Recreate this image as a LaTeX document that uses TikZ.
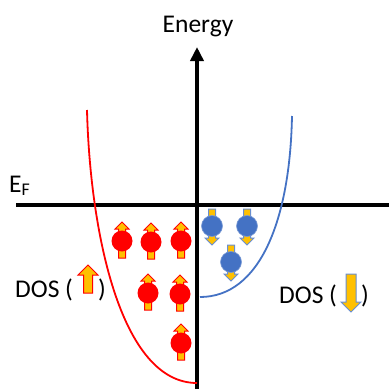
\documentclass[tikz,border=0pt]{standalone}
\usepackage{fontspec}
\setmainfont{Carlito}
\usetikzlibrary{arrows.meta}
\definecolor{redc}{HTML}{FF0000}
\definecolor{orangec}{HTML}{FFC000}
\definecolor{bluec}{HTML}{4472C4}
\tikzset{
  lbl/.style={inner sep=0pt, font=\fontsize{25.5}{28}\selectfont},
  axisline/.style={line width=4pt, black},
  upspin/.pic={
    \filldraw[fill=orangec, draw=redc, line width=1pt]
      (0,-19) -- (7,-12) -- (3.5,-12) -- (3.5,17) -- (-3.5,17) -- (-3.5,-12) -- (-7,-12) -- cycle;
    \fill[redc] (0,0) circle (10.5pt);
  },
  downspin/.pic={
    \filldraw[fill=orangec, draw=bluec!80!white, line width=1pt]
      (0,19) -- (7,12) -- (3.5,12) -- (3.5,-17) -- (-3.5,-17) -- (-3.5,12) -- (-7,12) -- cycle;
    \filldraw[fill=bluec, draw=bluec!70!white, line width=0.6pt] (0,0) circle (10.5pt);
  }
}
\begin{document}
\begin{tikzpicture}[x=1pt, y=-1pt]
\useasboundingbox (0,0) rectangle (390,391);
% axes
\coordinate (vtop) at (197,47);
\coordinate (vbot) at (197,389);
\coordinate (hl) at (16,205);
\coordinate (hr) at (389,205);
\draw[axisline] (hl) -- (hr);
\draw[axisline, -{Triangle[width=13pt,length=14pt]}] (vbot) -- (vtop);
% labels
\node[lbl, anchor=base] (energy) at (198,32) {Energy};
\node[lbl, anchor=base west] (ef) at (9,192) {E\textsubscript{F}};
\node[lbl, anchor=base west] (dosl) at (15,297) {DOS (};
\node[lbl, anchor=base west] (dosl2) at (98,297) {)};
\node[lbl, anchor=base west] (dosr) at (279,303) {DOS (};
\node[lbl, anchor=base west] (dosr2) at (361,303) {)};
% legend arrows
\filldraw[fill=orangec, draw=redc, line width=1pt]
  (88,265) -- (98,275) -- (92.5,275) -- (92.5,293) -- (83.5,293) -- (83.5,275) -- (78,275) -- cycle;
\filldraw[fill=orangec, draw=bluec!80!white, line width=1pt]
  (351,312) -- (361,302) -- (356,302) -- (356,274) -- (346,274) -- (346,302) -- (341,302) -- cycle;
% DOS curves
\draw[redc, line width=1.8pt] (87,110) .. controls (90,230) and (120,383) .. (197,383);
\draw[bluec, line width=1.8pt] (200,297) .. controls (260,297) and (290,220) .. (292,116);
% spins
\pic at (122,241) {upspin};
\pic at (151,242) {upspin};
\pic at (181,241) {upspin};
\pic at (148,293) {upspin};
\pic at (180,294) {upspin};
\pic at (181,343) {upspin};
\pic at (212,226) {downspin};
\pic at (247,226) {downspin};
\pic at (231,262) {downspin};
\end{tikzpicture}
\end{document}
